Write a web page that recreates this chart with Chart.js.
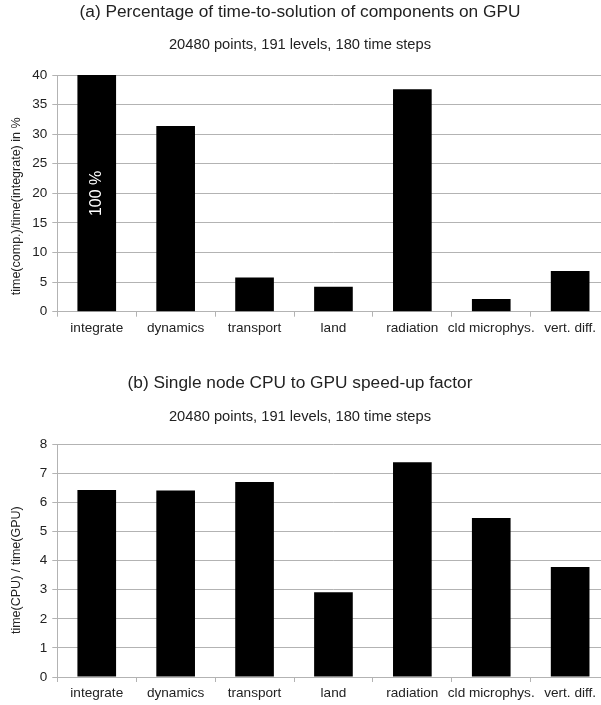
<!DOCTYPE html>
<html>
<head>
<meta charset="utf-8">
<script src="https://cdn.jsdelivr.net/npm/chart.js@4.4.0/dist/chart.umd.min.js"></script>
<style>
  html, body { margin: 0; padding: 0; background: #fff; overflow: hidden; }
  .box { position: relative; width: 610px; }
  #top { height: 355px; }
  #bottom { height: 350px; }
</style>
</head>
<body>
<div class="box" id="top"><canvas id="chartA"></canvas></div>
<div class="box" id="bottom"><canvas id="chartB"></canvas></div>
<script>
// data
const categories = ['integrate', 'dynamics', 'transport', 'land', 'radiation', 'cld microphys.', 'vert. diff.'];
const percentValues = [100, 31.4, 5.8, 4.22, 37.6, 2.15, 6.88];   // integrate is 100 %, clipped at 40
const speedupValues = [6.43, 6.41, 6.7, 2.91, 7.38, 5.47, 3.78];
const percentTicks = [0, 5, 10, 15, 20, 25, 30, 35, 40];
const speedupTicks = [0, 1, 2, 3, 4, 5, 6, 7, 8];
const integrateLabel = '100 %';

const subtitleText = '20480 points, 191 levels, 180 time steps';
const gridGray = '#b3b3b3';
const textColor = '#222';
const fontFamily = '"Liberation Sans", Arial, sans-serif';
Chart.defaults.font.family = fontFamily;
Chart.defaults.color = textColor;

// rotated white label inside the clipped integrate bar
const barLabelPlugin = {
  id: 'barLabel',
  afterDatasetsDraw(chart, args, opts) {
    if (!opts.text) return;
    const { ctx, scales } = chart;
    const x = scales.x.getPixelForValue(0);
    const y = scales.y.getPixelForValue(opts.at);
    ctx.save();
    ctx.translate(x, y);
    ctx.rotate(-Math.PI / 2);
    ctx.fillStyle = '#fff';
    ctx.font = '16px ' + fontFamily;
    ctx.textAlign = 'center';
    ctx.textBaseline = 'middle';
    ctx.fillText(opts.text, 0, 0);
    ctx.restore();
  }
};

// y axis title sits a bit below the middle of the plot, like the original
const yTitlePlugin = {
  id: 'yTitle',
  afterDraw(chart, args, opts) {
    const a = chart.chartArea;
    const ctx = chart.ctx;
    ctx.save();
    ctx.translate(opts.x, (a.top + a.bottom) / 2 + opts.shift);
    ctx.rotate(-Math.PI / 2);
    ctx.fillStyle = textColor;
    ctx.font = '12.5px ' + fontFamily;
    ctx.textAlign = 'center';
    ctx.textBaseline = 'middle';
    ctx.fillText(opts.text, 0, 0);
    ctx.restore();
  }
};

// the plot runs past the right edge of the picture, titles stay centred on it
const widenPlugin = {
  id: 'widen',
  afterLayout(chart, args, opts) {
    const extra = opts.extra || 0;
    const a = chart.chartArea;
    a.right += extra;
    a.width = a.right - a.left;
    const x = chart.scales.x;
    x.right += extra;
    x.width = x.right - x.left;
    x.configure();
  }
};

function makeChart(id, cfg) {
  return new Chart(document.getElementById(id), {
    type: 'bar',
    data: {
      labels: categories,
      datasets: [{
        data: cfg.values,
        backgroundColor: '#000',
        borderWidth: 0,
        barPercentage: 0.98,
        categoryPercentage: 0.5,
        clip: 0
      }]
    },
    plugins: [barLabelPlugin, yTitlePlugin, widenPlugin],
    options: {
      responsive: true,
      maintainAspectRatio: false,
      animation: false,
      layout: { padding: { left: 0, right: 10, top: 0, bottom: 0 } },
      plugins: {
        legend: { display: false },
        tooltip: { enabled: false },
        title: {
          display: true,
          text: cfg.title,
          font: { size: 17.3, weight: 'normal' },
          color: textColor,
          padding: cfg.titlePad
        },
        subtitle: {
          display: true,
          text: subtitleText,
          font: { size: 14.7, weight: 'normal' },
          color: textColor,
          padding: cfg.subPad
        },
        barLabel: { text: cfg.barText, at: cfg.barTextAt },
        yTitle: { text: cfg.yTitle, x: 16.5, shift: cfg.yTitleShift },
        widen: { extra: 9.6 }
      },
      scales: {
        x: {
          grid: {
            offset: true,
            drawOnChartArea: false,
            drawTicks: true,
            tickLength: 5,
            color: gridGray
          },
          border: { color: gridGray },
          ticks: { font: { size: 13.6 }, color: textColor, padding: 3, maxRotation: 0, autoSkip: false },
          afterFit(axis) { axis.height = cfg.xHeight; }
        },
        y: {
          min: 0,
          max: cfg.ticks[cfg.ticks.length - 1],
          afterBuildTicks(axis) { axis.ticks = cfg.ticks.map(v => ({ value: v })); },
          grid: { color: gridGray, tickLength: 5 },
          border: { color: gridGray },
          ticks: { font: { size: 13.5 }, color: textColor, padding: 5 },
          afterFit(axis) { axis.width = 57.3; }
        }
      }
    }
  });
}

makeChart('chartA', {
  values: percentValues,
  ticks: percentTicks,
  title: '(a) Percentage of time-to-solution of components on GPU',
  yTitle: 'time(comp.)/time(integrate) in %',
  yTitleShift: 13,
  titlePad: { top: 1.6, bottom: 13.8 },
  subPad: { top: 0, bottom: 21.2 },
  xHeight: 43.3,
  barText: integrateLabel,
  barTextAt: 20
});

makeChart('chartB', {
  values: speedupValues,
  ticks: speedupTicks,
  title: '(b) Single node CPU to GPU speed-up factor',
  yTitle: 'time(CPU) / time(GPU)',
  yTitleShift: 9.5,
  titlePad: { top: 17.5, bottom: 15.3 },
  subPad: { top: 0, bottom: 18.1 },
  xHeight: 28,
  barText: null,
  barTextAt: 0
});
</script>
</body>
</html>
